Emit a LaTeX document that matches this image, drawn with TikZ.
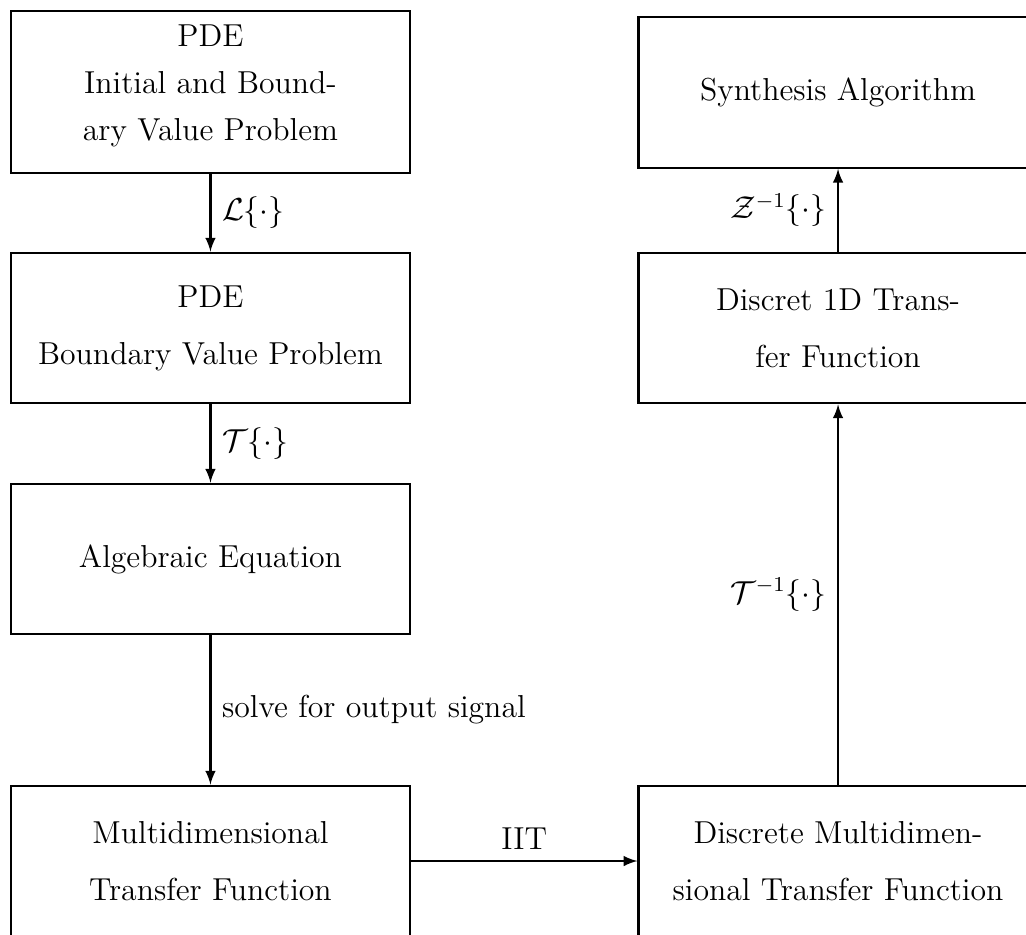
\documentclass[tikz,border=0pt,12pt]{standalone}
\usetikzlibrary{positioning}
\tikzset{
  block/.style={draw,thick,align=center,minimum width=5.3cm,minimum height=2cm},
  flow/.style={thick,-latex}
}
\begin{document}
\begin{tikzpicture}
\useasboundingbox (0,0) rectangle (13.625,-12.404);
% left column
\node[block,minimum height=2.15cm,text depth=7pt] (ibvp) at (2.795,-1.222) {PDE\\[3.2pt]Initial and Bound-\\[3.2pt]ary Value Problem};
\node[block] (bvp) at (2.795,-4.356) {PDE\\[7pt]Boundary Value Problem};
\node[block] (alg) at (2.795,-7.424) {Algebraic Equation};
\node[block] (mdtf) at (2.795,-11.434) {Multidimensional\\[7pt]Transfer Function};
% right column
\node[block] (synth) at (11.129,-1.228) {Synthesis Algorithm};
\node[block] (d1tf) at (11.129,-4.356) {Discret 1D Trans-\\[7pt]fer Function};
\node[block] (dmdtf) at (11.129,-11.434) {Discrete Multidimen-\\[7pt]sional Transfer Function};
% transforms
\draw[flow] (ibvp) -- (bvp) node[midway,right] {$\mathcal{L}\{\cdot\}$};
\draw[flow] (bvp) -- (alg) node[midway,right] {$\mathcal{T}\{\cdot\}$};
\draw[flow] (alg) -- (mdtf) node[midway,right] {solve for output signal};
\draw[flow] (mdtf) -- (dmdtf) node[midway,above] {IIT};
\draw[flow] (dmdtf) -- (d1tf) node[midway,left] {$\mathcal{T}^{-1}\{\cdot\}$};
\draw[flow] (d1tf) -- (synth) node[midway,left] {$\mathcal{Z}^{-1}\{\cdot\}$};
\end{tikzpicture}
\end{document}
